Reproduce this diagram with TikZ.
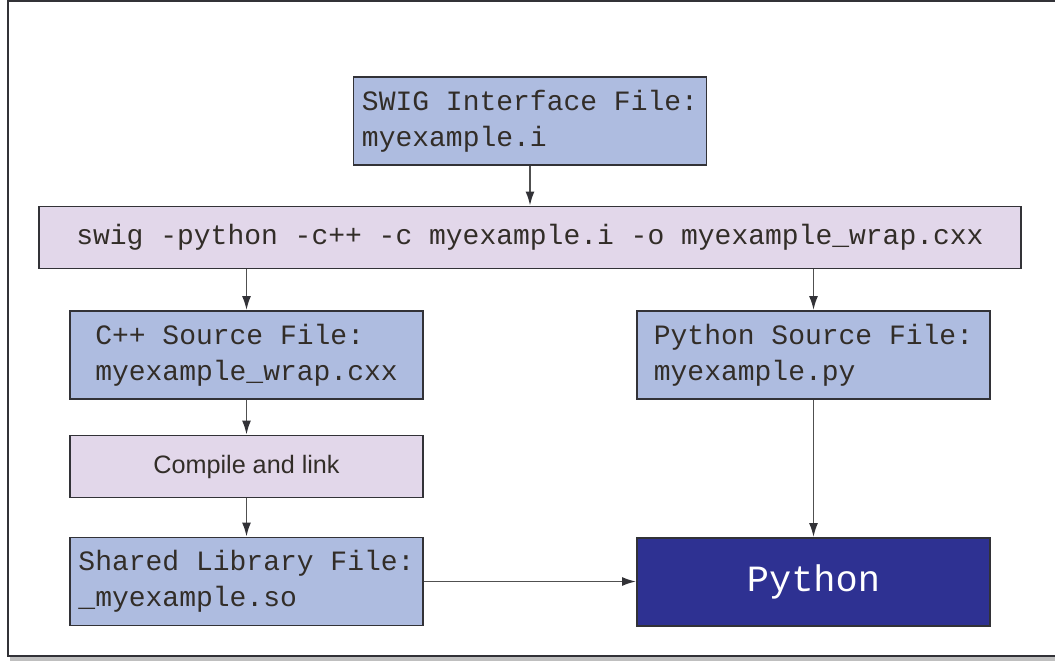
\documentclass[tikz,border=0pt]{standalone}
\usepackage{fontspec}
\setmainfont{Liberation Sans}
\setmonofont{Liberation Mono}
\usetikzlibrary{arrows.meta}
\definecolor{dateiblau}{RGB}{174,188,224}
\definecolor{befehllila}{RGB}{226,215,234}
\definecolor{pythonblau}{RGB}{46,49,146}
\definecolor{rahmengrau}{RGB}{50,50,55}
\definecolor{pfeilgrau}{RGB}{80,80,80}
\definecolor{textgrau}{RGB}{50,45,40}
\begin{document}
\begin{tikzpicture}[x=0.5pt, y=-0.5pt,
    kasten/.style={draw=rahmengrau, line width=0.9pt, inner sep=0pt, text=textgrau},
    datei/.style={kasten, fill=dateiblau, align=left, minimum width=176.5pt, minimum height=44pt,
      font=\ttfamily\fontsize{14}{18}\selectfont},
    befehl/.style={kasten, fill=befehllila, minimum height=31pt},
    pfeil/.style={draw=pfeilgrau, line width=0.9pt, -{Latex[length=7pt, width=4.5pt, color=rahmengrau]}}]
  % Bildgroesse und Rahmen
  \useasboundingbox (0,0) rectangle (1055,662);
  \draw[black!25, line width=2pt] (10,659) -- (1060,659);
  \draw[rahmengrau, line width=0.7pt] (1060,1) -- (8,1) -- (8,656) -- (1060,656);
  % SWIG-Schnittstelle
  \node[datei] (swig) at (530,121) {SWIG Interface File:\\myexample.i};
  \node[befehl, minimum width=491pt, font=\ttfamily\fontsize{14}{18}\selectfont]
    (cmd) at (530,237.5) {swig -python -c++ -c myexample.i -o myexample\_wrap.cxx};
  % Linker Zweig (C++)
  \node[datei] (cpp) at (246.5,355) {C++ Source File:\\myexample\_wrap.cxx};
  \node[befehl, minimum width=176.5pt, font=\fontsize{12.6}{15}\selectfont]
    (comp) at (246.5,466.5) {Compile and link};
  \node[datei] (lib) at (246.5,581.5) {Shared Library File:\\\_myexample.so};
  % Rechter Zweig (Python)
  \node[datei] (pysrc) at (813.5,355) {Python Source File:\\myexample.py};
  \node[kasten, fill=pythonblau, text=white, minimum width=176.5pt, minimum height=44pt,
    font=\ttfamily\fontsize{18.5}{22}\selectfont] (py) at (813.5,582) {Python};
  % Pfeile
  \draw[pfeil] (swig) -- (cmd);
  \draw[pfeil] (cmd.south -| cpp.north) -- (cpp.north);
  \draw[pfeil] (cmd.south -| pysrc.north) -- (pysrc.north);
  \draw[pfeil] (cpp) -- (comp);
  \draw[pfeil] (comp) -- (lib);
  \draw[pfeil] (pysrc) -- (py);
  \draw[pfeil] (lib.east) -- (lib.east -| py.west);
\end{tikzpicture}
\end{document}
